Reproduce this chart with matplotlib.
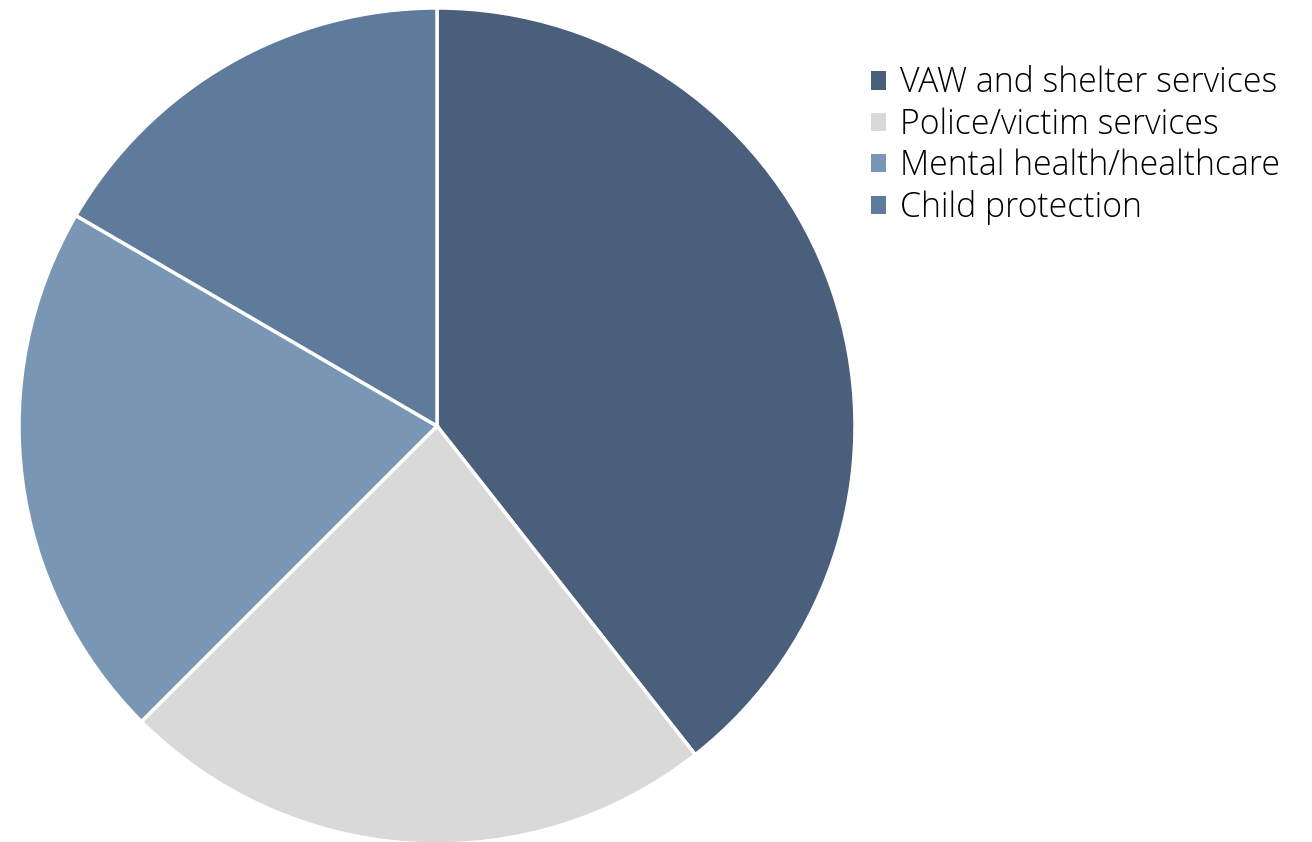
import matplotlib.pyplot as plt

labels = ["VAW and shelter services", "Police/victim services",
          "Mental health/healthcare", "Child protection"]
shares = [39.4, 23.1, 20.9, 16.6]
colors = ["#4A5F7B", "#D9D9D9", "#7A96B5", "#5E7B9B"]

plt.rcParams["font.family"] = ["Open Sans", "DejaVu Sans"]

fig = plt.figure(figsize=(13.12, 8.42), dpi=100)
ax = fig.add_axes([19 / 1312, -2 / 842, 836 / 1312, 836 / 842])
wedges, _ = ax.pie(shares, colors=colors, startangle=90, counterclock=False,
                   radius=1.0,
                   wedgeprops=dict(edgecolor="white", linewidth=2.5))
ax.set_xlim(-1, 1)
ax.set_ylim(-1, 1)
ax.set_aspect("equal")

leg = fig.legend(wedges, labels, loc="upper left",
                 bbox_to_anchor=(871 / 1312, 1 - 66 / 842),
                 frameon=False, fontsize=24.3, handlelength=0.45,
                 handleheight=0.45, handletextpad=0.4, labelspacing=0.2,
                 borderaxespad=0, borderpad=0)
for t in leg.get_texts():
    t.set_fontweight("light")
for h in leg.legend_handles:
    h.set_edgecolor("none")

fig.savefig("out.png", dpi=100)
